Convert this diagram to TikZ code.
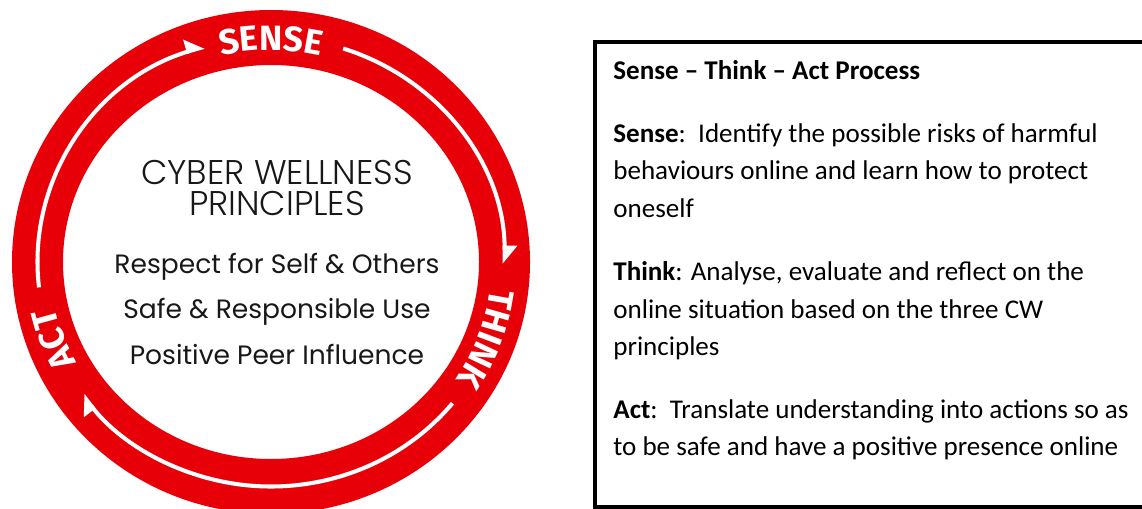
\documentclass[tikz,border=0pt]{standalone}
\usepackage{fontspec}
\setmainfont{Carlito}
\newfontfamily\ringfont{Fira Sans}
\newfontfamily\cwfont{Poppins}
\newfontfamily\cwlightfont{Poppins}[UprightFont=* Light]
\usepackage{tikz}
\usetikzlibrary{arrows.meta,positioning,decorations.text}

\definecolor{ringred}{RGB}{232,0,8}
\definecolor{cwgray}{RGB}{24,24,24}
\newcommand\ringstyle{\ringfont\bfseries\fontsize{20}{24}\selectfont}

\begin{document}
\begin{tikzpicture}[x=0.02cm, y=0.02cm, node distance=0.5cm]
    \tikzstyle{flow} = [white, line width=2.3pt, -{Triangle[harpoon, length=9pt, width=14pt]}]
    \tikzstyle{ringlabel} = [decorate, decoration={text along path, text align=center, text color=white}]
    \tikzstyle{cwtitle} = [inner sep=0pt, align=center, text=cwgray, font=\cwlightfont\fontsize{19.5}{17.6}\selectfont]
    \tikzstyle{cwtext} = [inner sep=0pt, align=center, text=cwgray, font=\cwfont\fontsize{15.1}{25.8}\selectfont]
    \tikzstyle{desc} = [anchor=north west, inner sep=0pt, align=left, font=\fontsize{15.4}{21.5}\selectfont]

    \useasboundingbox (0,0) rectangle (1142,508);

    % Red ring
    \coordinate (hub) at (271,246);
    \fill[ringred, even odd rule] (hub) ellipse [x radius=259, y radius=252]
        (hub) ellipse [x radius=208, y radius=197];

    % Arrows round the ring
    \draw[flow] (hub) ++(186.5:233.5 and 224.5) arc[start angle=186.5, end angle=106.6, x radius=233.5, y radius=224.5];
    \draw[flow] (hub) ++(72:233.5 and 224.5) arc[start angle=72, end angle=-0.5, x radius=233.5, y radius=224.5];
    \draw[flow] (hub) ++(-39:233.5 and 224.5) arc[start angle=-39, end angle=-143.7, x radius=233.5, y radius=224.5];

    % Ring labels
    \path[ringlabel, decoration={text={|\ringstyle|SENSE}}] (hub) ++(130:221 and 212) arc[start angle=130, end angle=50, x radius=221, y radius=212];
    \path[ringlabel, decoration={text={|\ringstyle|THINK}}] (hub) ++(20:221 and 212) arc[start angle=20, end angle=-60, x radius=221, y radius=212];
    \path[ringlabel, decoration={text={|\ringstyle|ACT}}] (hub) ++(240:221 and 212) arc[start angle=240, end angle=160, x radius=221, y radius=212];

    % Principles inside the ring
    \node[cwtitle] (cwp) at (277,320) {CYBER WELLNESS\\PRINCIPLES};
    \node[cwtext, below=0.74cm of cwp] (values) {Respect for Self \& Others\\Safe \& Responsible Use\\Positive Peer Influence};

    % Process box
    \draw[line width=2.3pt] (595,466) rectangle (1160,0.5);
    \node[desc] (process) at (613,448) {\textbf{Sense -- Think -- Act Process}};
    \node[desc] (sense) at (613,385) {\textbf{Sense}:\ \ Identify the possible risks of harmful\\behaviours online and learn how to protect\\oneself};
    \node[desc] (think) at (613,247) {\textbf{Think}: Analyse, evaluate and reflect on the\\online situation based on the three CW\\principles};
    \node[desc] (act) at (613,109) {\textbf{Act}:\ \ Translate understanding into actions so as\\to be safe and have a positive presence online};

\end{tikzpicture}
\end{document}
